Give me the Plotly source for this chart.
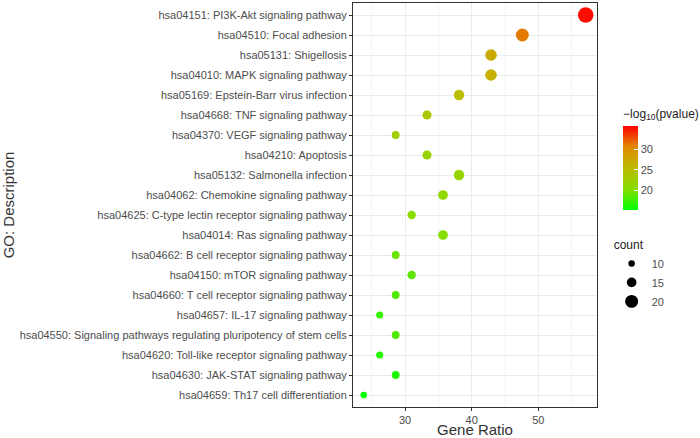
import plotly.graph_objects as go

terms = ["hsa04151: PI3K-Akt signaling pathway","hsa04510: Focal adhesion","hsa05131: Shigellosis",
"hsa04010: MAPK signaling pathway","hsa05169: Epstein-Barr virus infection","hsa04668: TNF signaling pathway",
"hsa04370: VEGF signaling pathway","hsa04210: Apoptosis","hsa05132: Salmonella infection",
"hsa04062: Chemokine signaling pathway","hsa04625: C-type lectin receptor signaling pathway",
"hsa04014: Ras signaling pathway","hsa04662: B cell receptor signaling pathway","hsa04150: mTOR signaling pathway",
"hsa04660: T cell receptor signaling pathway","hsa04657: IL-17 signaling pathway",
"hsa04550: Signaling pathways regulating pluripotency of stem cells","hsa04620: Toll-like receptor signaling pathway",
"hsa04630: JAK-STAT signaling pathway","hsa04659: Th17 cell differentiation"]
counts = [24,20,18,18,16,14,12,14,16,15,13,15,12,13,12,11,12,11,12,10]
ratio = [57.1,47.6,42.9,42.9,38.1,33.3,28.6,33.3,38.1,35.7,31.0,35.7,28.6,31.0,28.6,26.2,28.6,26.2,28.6,23.8]
logp = [35,31,27,26.5,25,23.5,22.5,22,21.5,21,20.5,20,19,18.5,18,17,18,16.5,16,15]
legend_counts = [10,15,20]

def sz(c):
    return 6.5 + (c-10)*9/14

cs = [[0,'#00ff00'],[0.25,'#86dd00'],[0.5,'#bdbb00'],[0.75,'#e08a00'],[1,'#ff0000']]

fig = go.Figure()
fig.add_trace(go.Scatter(x=ratio, y=terms, mode='markers', showlegend=False,
    marker=dict(size=[sz(c) for c in counts], color=logp, colorscale=cs, cmin=15, cmax=35.5, opacity=1,
        line=dict(width=0),
        colorbar=dict(title=dict(text='−log<sub>10</sub>(pvalue)', side='top', font=dict(size=12, color='#222')),
            x=1.066, xanchor='left', y=0.77, yanchor='top', len=0.31, lenmode='fraction',
            thickness=15, outlinewidth=0, tickvals=[20,25,30], ticks='inside', ticklen=4, tickcolor='white',
            tickfont=dict(size=11, color='#4d4d4d')))))
for c in legend_counts:
    fig.add_trace(go.Scatter(x=[None], y=[None], mode='markers', name=str(c),
        marker=dict(size=sz(c), color='black')))

fig.update_layout(width=700, height=438, margin=dict(l=353, r=103, t=3, b=31, autoexpand=False),
    plot_bgcolor='white', paper_bgcolor='white', font=dict(family='Liberation Sans, Arial', color='#4d4d4d'),
    legend=dict(title=dict(text='count', font=dict(size=12, color='#222')), itemsizing='trace',
        x=1.06, xanchor='left', y=0.43, yanchor='top', font=dict(size=11, color='#4d4d4d'), tracegroupgap=0))
fig.update_xaxes(title=dict(text='Gene Ratio', font=dict(size=15, color='#333'), standoff=4),
    range=[22.2, 58.8], tickvals=[30,40,50], showgrid=True, gridcolor='#ebebeb', mirror=True,
    showline=True, linecolor='#333', ticks='outside', ticklen=3, tickcolor='#333', tickfont=dict(size=11, color='#4d4d4d'),
    minor=dict(tickvals=[25,35,45,55], showgrid=True, gridcolor='#f3f3f3'), zeroline=False)
fig.update_yaxes(title=dict(text='GO: Description', font=dict(size=15, color='#333'), standoff=4),
    categoryorder='array', categoryarray=terms[::-1], range=[-0.6, 19.6], showgrid=True, gridcolor='#ebebeb',
    mirror=True, showline=True, linecolor='#333', ticks='outside', ticklen=3, tickcolor='#333',
    tickfont=dict(size=11, color='#4d4d4d'))
fig.write_html('out.html', post_script='document.body.style.margin="0";', config={'displayModeBar': False})
